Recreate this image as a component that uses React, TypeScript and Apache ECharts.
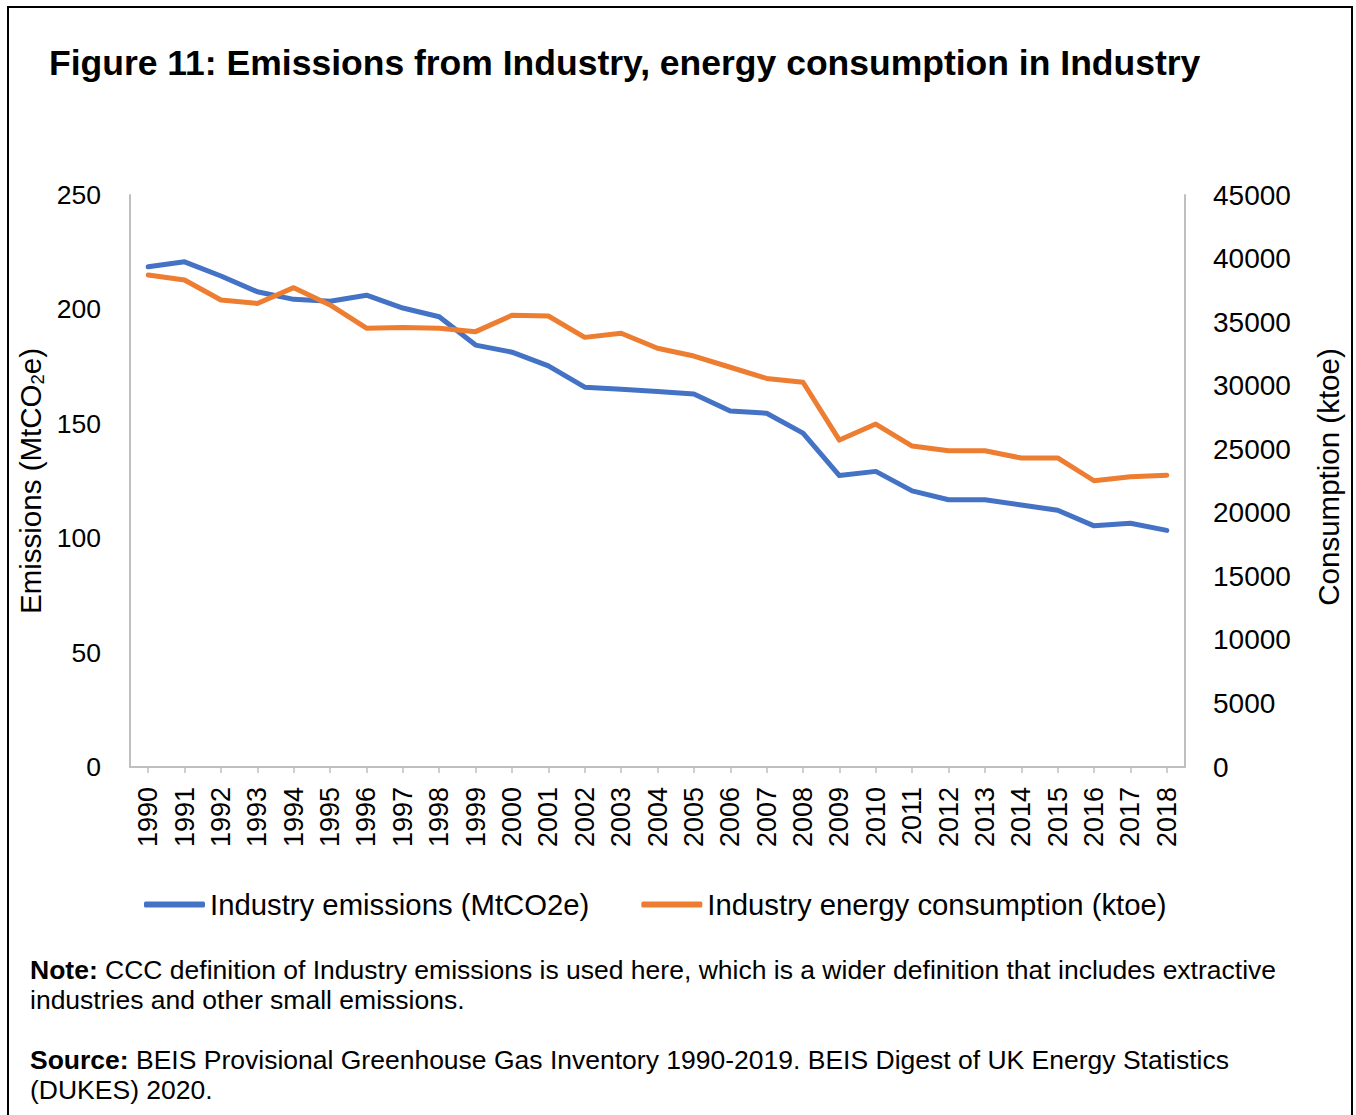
import React, { useEffect, useRef } from "react";
import * as echarts from "echarts";

const years = ["1990","1991","1992","1993","1994","1995","1996","1997","1998","1999","2000","2001","2002","2003","2004","2005","2006","2007","2008","2009","2010","2011","2012","2013","2014","2015","2016","2017","2018"];
const emissions = [218.6,220.8,214.6,207.7,204.4,203.6,206.2,200.6,196.8,184.4,181.3,175.3,166.0,165.1,164.1,163.0,155.6,154.6,145.9,127.4,129.2,120.7,116.8,116.8,114.5,112.2,105.4,106.5,103.4];
const consumption = [38700,38310,36740,36470,37710,36350,34520,34570,34520,34250,35540,35480,33800,34120,32940,32330,31450,30570,30270,25720,26980,25250,24880,24880,24310,24310,22520,22840,22950];
const leftTicks = [0, 250, 50];
const rightTicks = [0, 45000, 5000];

const FONT = "Liberation Sans, Arial, Helvetica, sans-serif";

export default function App() {
  const ref = useRef<HTMLDivElement>(null);
  useEffect(() => {
    if (!ref.current) return;
    const chart = echarts.init(ref.current, null, { renderer: "svg" });
    chart.setOption({
      animation: false,
      backgroundColor: "#ffffff",
      textStyle: { fontFamily: FONT, color: "#000" },
      title: {
        text: "Figure 11: Emissions from Industry, energy consumption in Industry",
        left: 44,
        top: 40,
        textStyle: { fontFamily: FONT, fontSize: 35.5, fontWeight: "bold", color: "#000" },
      },
      legend: {
        left: 139,
        top: 885,
        itemWidth: 61,
        itemHeight: 6,
        itemGap: 52,
        icon: "roundRect",
        textStyle: { fontFamily: FONT, fontSize: 29.3, color: "#000" },
        data: ["Industry emissions (MtCO2e)", "Industry energy consumption (ktoe)"],
      },
      grid: { left: 130, right: 171, top: 195, bottom: 348, containLabel: false },
      xAxis: {
        type: "category",
        data: years,
        boundaryGap: true,
        axisLine: { show: true, lineStyle: { color: "#BFBFBF", width: 2 } },
        axisTick: { show: true, alignWithLabel: true, length: 6, lineStyle: { color: "#BFBFBF", width: 1.5 } },
        axisLabel: { rotate: 90, fontSize: 27, color: "#000", fontFamily: FONT, margin: 20, interval: 0 },
        splitLine: { show: false },
      },
      yAxis: [
        {
          type: "value",
          min: leftTicks[0],
          max: leftTicks[1],
          interval: leftTicks[2],
          position: "left",
          axisLine: { show: true, lineStyle: { color: "#BFBFBF", width: 2 } },
          axisTick: { show: false },
          splitLine: { show: false },
          axisLabel: { fontSize: 26.5, color: "#000", fontFamily: FONT, margin: 29 },
        },
        {
          type: "value",
          min: rightTicks[0],
          max: rightTicks[1],
          interval: rightTicks[2],
          position: "right",
          axisLine: { show: true, lineStyle: { color: "#BFBFBF", width: 2 } },
          axisTick: { show: false },
          splitLine: { show: false },
          axisLabel: { fontSize: 28, color: "#000", fontFamily: FONT, margin: 28, formatter: (v: number) => String(v) },
        },
      ],
      series: [
        {
          name: "Industry emissions (MtCO2e)",
          type: "line",
          yAxisIndex: 0,
          data: emissions,
          showSymbol: false,
          symbol: "none",
          lineStyle: { color: "#4472C4", width: 5, cap: "round", join: "round" },
          itemStyle: { color: "#4472C4" },
        },
        {
          name: "Industry energy consumption (ktoe)",
          type: "line",
          yAxisIndex: 1,
          data: consumption,
          showSymbol: false,
          symbol: "none",
          lineStyle: { color: "#ED7D31", width: 5, cap: "round", join: "round" },
          itemStyle: { color: "#ED7D31" },
        },
      ],
      graphic: [
        {
          type: "rect",
          shape: { x: 8, y: 7, width: 1344, height: 1120 },
          style: { fill: "none", stroke: "#000", lineWidth: 2 },
          silent: true,
        },
        {
          type: "text",
          x: 30,
          y: 481,
          rotation: Math.PI / 2,
          style: {
            text: "{n|Emissions (MtCO}{s|2}{n|e)}",
            align: "center",
            verticalAlign: "middle",
            rich: {
              n: { fontSize: 29.5, fontFamily: FONT, fill: "#000" },
              s: { fontSize: 18.5, fontFamily: FONT, fill: "#000", padding: [14, 0, 0, 0] },
            },
          },
        },
        {
          type: "text",
          x: 1328,
          y: 477,
          rotation: Math.PI / 2,
          style: {
            text: "Consumption (ktoe)",
            align: "center",
            verticalAlign: "middle",
            fontSize: 29.5,
            fontFamily: FONT,
            fill: "#000",
          },
        },
        {
          type: "text",
          x: 30,
          y: 955,
          style: {
            text: "{b|Note:}{n| CCC definition of Industry emissions is used here, which is a wider definition that includes extractive}\n{n|industries and other small emissions.}",
            align: "left",
            verticalAlign: "top",
            lineHeight: 30,
            rich: {
              b: { fontSize: 26.5, fontWeight: "bold", fontFamily: FONT, fill: "#000", lineHeight: 30 },
              n: { fontSize: 26.5, fontFamily: FONT, fill: "#000", lineHeight: 30 },
            },
          },
        },
        {
          type: "text",
          x: 30,
          y: 1045,
          style: {
            text: "{b|Source:}{n| BEIS Provisional Greenhouse Gas Inventory 1990-2019. BEIS Digest of UK Energy Statistics}\n{n|(DUKES) 2020.}",
            align: "left",
            verticalAlign: "top",
            lineHeight: 30,
            rich: {
              b: { fontSize: 26.5, fontWeight: "bold", fontFamily: FONT, fill: "#000", lineHeight: 30 },
              n: { fontSize: 26.5, fontFamily: FONT, fill: "#000", lineHeight: 30 },
            },
          },
        },
      ],
    });
    return () => chart.dispose();
  }, []);
  return (
    <div
      ref={ref}
      style={{ position: "fixed", left: 0, top: 0, width: 1356, height: 1115, background: "#fff" }}
    />
  );
}
